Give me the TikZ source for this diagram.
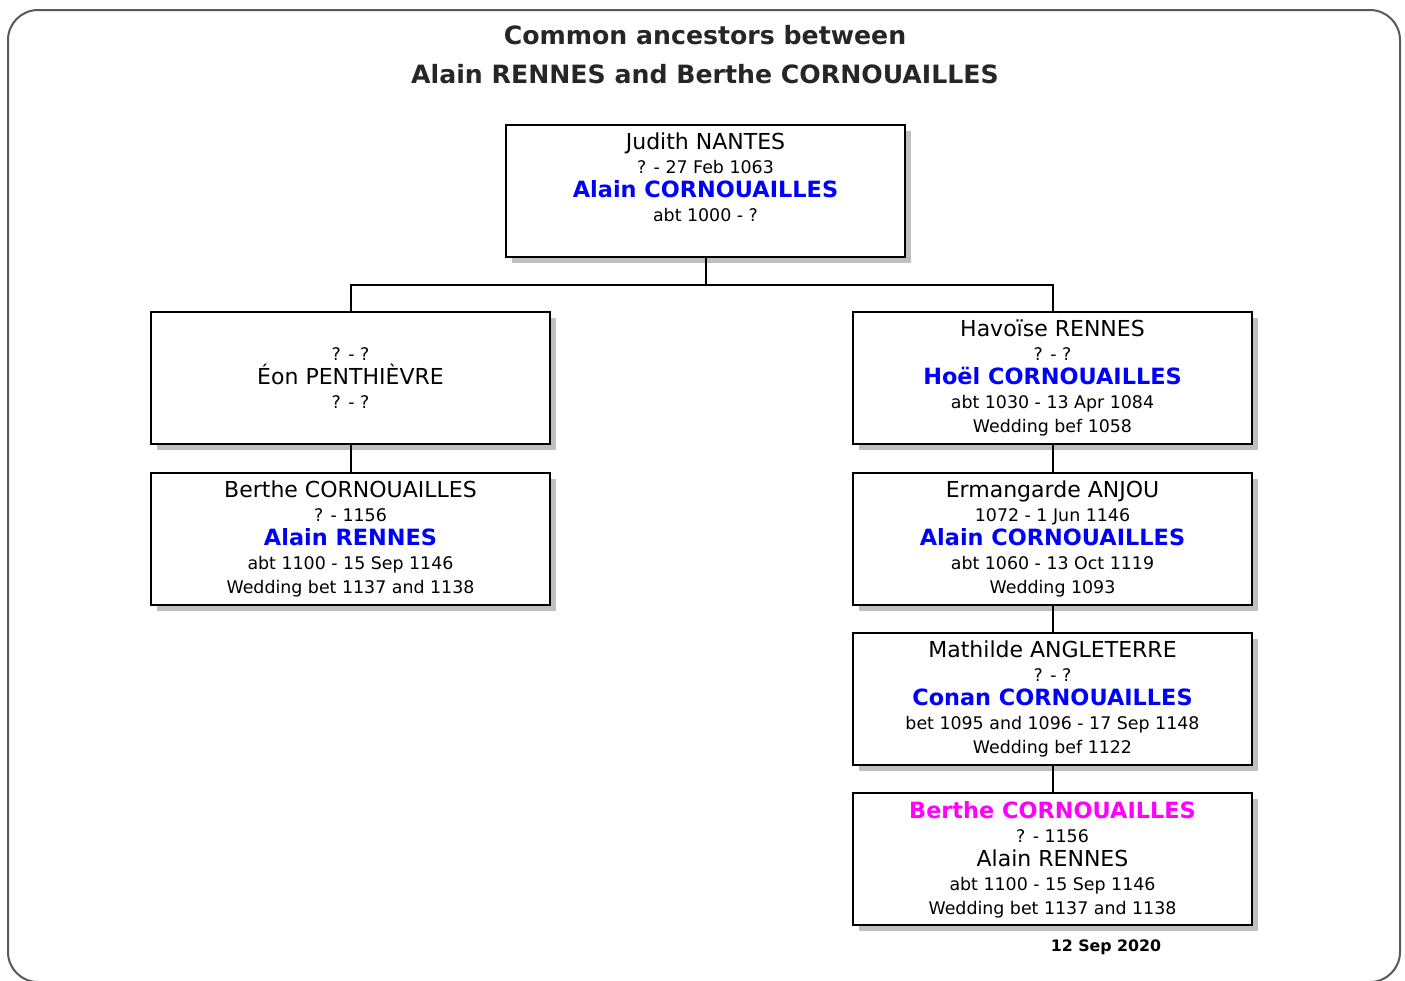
\documentclass[tikz,border=0pt]{standalone}
\usepackage{fontspec}
\setmainfont{DejaVu Sans}
\usetikzlibrary{
	positioning,
	shadows,
	calc,
}
\definecolor{SpouseBlue}{HTML}{0000FF}
\definecolor{RootPink}{HTML}{FF00FF}
\definecolor{FrameGray}{HTML}{5A5A5A}
\newcommand{\pname}[1]{{\fontsize{11}{12}\selectfont #1}}
\newcommand{\pdates}[1]{{\fontsize{8.7}{12}\selectfont #1}}
\newcommand{\pspouse}[1]{{\fontsize{11.2}{12}\selectfont\bfseries\color{SpouseBlue}#1}}
\newcommand{\proot}[1]{{\fontsize{11.2}{12}\selectfont\bfseries\color{RootPink}#1}}

\begin{document}
\begin{tikzpicture} [
			person/.style={draw,line width=1pt,fill=white,minimum width=199.5pt,minimum height=66pt,inner xsep=4pt,inner ysep=4pt,
				drop shadow={shadow xshift=3pt,shadow yshift=-3pt,fill=black!25,opacity=1},
				execute at begin node={\begin{minipage}[t][58pt][t]{190pt}\centering\fontsize{8.7}{12}\selectfont\rule{0pt}{8pt}},
				execute at end node={\end{minipage}}},
			link/.style={line width=1pt},
			title/.style={anchor=base,font=\fontsize{12.6}{15}\selectfont\bfseries,text=black!85},
			stamp/.style={anchor=base,font=\fontsize{7.9}{9}\selectfont\bfseries}
		]
		\useasboundingbox (0,0) rectangle (702.5pt,-490.5pt);
		\draw[FrameGray,line width=1pt,rounded corners=15pt] (4pt,-5pt) rectangle (700pt,-491pt);

		\node [title] (title) at (352.5pt,-22pt) {Common ancestors between};
		\node [title] (subtitle) at (352.5pt,-41.5pt) {Alain RENNES and Berthe CORNOUAILLES};

		\node [person] (judith) at (352.75pt,-95.5pt) {
			\pname{Judith NANTES}\\
			\pdates{? - 27 Feb 1063}\\
			\pspouse{Alain CORNOUAILLES}\\
			\pdates{abt 1000 - ?}
		};
		\node [person] (eon) at (175.25pt,-189pt) {
			\\
			\pdates{? - ?}\\
			\pname{Éon PENTHIÈVRE}\\
			\pdates{? - ?}
		};
		\node [person] (havoise) at (526.25pt,-189pt) {
			\pname{Havoïse RENNES}\\
			\pdates{? - ?}\\
			\pspouse{Hoël CORNOUAILLES}\\
			\pdates{abt 1030 - 13 Apr 1084}\\
			\pdates{Wedding bef 1058}
		};
		\node [person, below=13.5pt of eon] (berthe) {
			\pname{Berthe CORNOUAILLES}\\
			\pdates{? - 1156}\\
			\pspouse{Alain RENNES}\\
			\pdates{abt 1100 - 15 Sep 1146}\\
			\pdates{Wedding bet 1137 and 1138}
		};
		\node [person, below=13.5pt of havoise] (ermangarde) {
			\pname{Ermangarde ANJOU}\\
			\pdates{1072 - 1 Jun 1146}\\
			\pspouse{Alain CORNOUAILLES}\\
			\pdates{abt 1060 - 13 Oct 1119}\\
			\pdates{Wedding 1093}
		};
		\node [person, below=13pt of ermangarde] (mathilde) {
			\pname{Mathilde ANGLETERRE}\\
			\pdates{? - ?}\\
			\pspouse{Conan CORNOUAILLES}\\
			\pdates{bet 1095 and 1096 - 17 Sep 1148}\\
			\pdates{Wedding bef 1122}
		};
		\node [person, below=13pt of mathilde] (root) {
			\proot{Berthe CORNOUAILLES}\\
			\pdates{? - 1156}\\
			\pname{Alain RENNES}\\
			\pdates{abt 1100 - 15 Sep 1146}\\
			\pdates{Wedding bet 1137 and 1138}
		};
		\node [stamp] (date) at (553pt,-475.5pt) {12 Sep 2020};

		\coordinate (bus) at ($(judith.south)+(0,-13.25pt)$);
		\draw[link] (judith.south) -- (bus);
		\draw[link] (bus) -| (eon.north);
		\draw[link] (bus) -| (havoise.north);
		\draw[link] (eon.south) -- (berthe.north);
		\draw[link] (havoise.south) -- (ermangarde.north);
		\draw[link] (ermangarde.south) -- (mathilde.north);
		\draw[link] (mathilde.south) -- (root.north);
	\end{tikzpicture}
\end{document}
